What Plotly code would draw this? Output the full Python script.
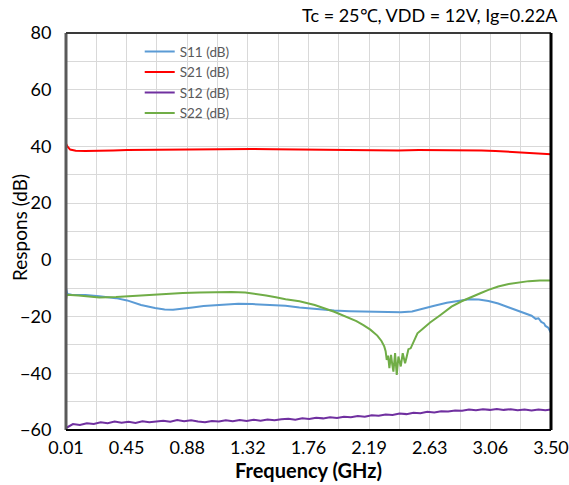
import plotly.graph_objects as go

# Measured S-parameters, Tc = 25 C, VDD = 12 V
s21_freq = [0.01, 0.02, 0.04, 0.08, 0.15, 0.25, 0.35, 0.45, 0.6, 0.75, 0.9, 1.05, 1.2, 1.35, 1.5,
            1.65, 1.8, 1.95, 2.1, 2.25, 2.4, 2.55, 2.7, 2.85, 3.0, 3.1, 3.2, 3.3, 3.4, 3.5]
s21_db = [41.0, 40.0, 38.9, 38.5, 38.4, 38.4, 38.6, 38.7, 38.8, 38.9, 38.9, 39.0, 39.0, 39.1, 39.0,
          38.9, 38.9, 38.8, 38.6, 38.5, 38.6, 38.7, 38.7, 38.8, 38.6, 38.4, 38.1, 37.8, 37.5, 37.2]

s11_freq = [0.01, 0.02, 0.05, 0.15, 0.25, 0.37, 0.45, 0.55, 0.65, 0.72, 0.78, 0.85, 0.92, 1.0, 1.1,
            1.25, 1.35, 1.45, 1.59, 1.69, 1.8, 1.94, 2.05, 2.18, 2.3, 2.42, 2.5, 2.58, 2.66, 2.75,
            2.85, 2.91, 2.98, 3.05, 3.12, 3.2, 3.26, 3.33, 3.36, 3.39, 3.41, 3.43, 3.45, 3.46, 3.48, 3.5]
s11_db = [-10.0, -12.0, -12.3, -12.4, -12.8, -13.5, -14.3, -15.9, -17.0, -17.5, -17.6, -17.3, -16.8,
          -16.3, -15.9, -15.5, -15.6, -15.8, -16.2, -16.8, -17.4, -17.9, -18.1, -18.2, -18.4, -18.5,
          -18.2, -17.3, -16.2, -15.1, -14.2, -13.9, -14.0, -14.5, -15.4, -16.8, -18.0, -19.3, -19.7,
          -20.8, -20.6, -21.9, -22.4, -23.3, -23.9, -25.8]

s12_freq = [0.01, 0.06, 0.11, 0.16, 0.21, 0.26, 0.31, 0.36, 0.41, 0.46, 0.51, 0.56, 0.61, 0.66,
            0.71, 0.76, 0.81, 0.86, 0.91, 0.96, 1.01, 1.06, 1.11, 1.16, 1.21, 1.26, 1.31, 1.36,
            1.41, 1.46, 1.51, 1.56, 1.61, 1.66, 1.71, 1.76, 1.81, 1.86, 1.91, 1.96, 2.01, 2.06,
            2.11, 2.16, 2.21, 2.26, 2.31, 2.36, 2.41, 2.46, 2.51, 2.56, 2.61, 2.66, 2.71, 2.76,
            2.81, 2.86, 2.91, 2.96, 3.01, 3.06, 3.11, 3.16, 3.21, 3.26, 3.31, 3.36, 3.41, 3.46, 3.5]
s12_db = [-59.3, -57.9, -58.2, -57.6, -57.9, -57.3, -57.6, -57.0, -57.4, -57.1, -57.5, -56.9,
          -57.3, -57.0, -56.7, -57.1, -56.5, -56.9, -56.6, -57.0, -57.3, -56.8, -57.0, -56.6,
          -56.9, -56.5, -56.8, -56.4, -56.7, -56.3, -56.6, -56.2, -56.0, -56.4, -55.9, -56.1,
          -55.7, -55.9, -55.5, -55.8, -55.3, -55.5, -55.1, -55.3, -54.8, -55.0, -54.5, -54.7,
          -54.2, -54.4, -53.9, -54.1, -53.6, -53.8, -53.4, -53.5, -53.1, -53.2, -52.8, -53.0,
          -52.7, -52.9, -52.6, -52.9, -52.7, -53.0, -52.8, -53.1, -52.8, -53.0, -52.8]

s22_freq = [0.01, 0.015, 0.1, 0.25, 0.37, 0.49, 0.61, 0.73, 0.85, 0.97, 1.1, 1.2, 1.3, 1.38, 1.45,
            1.52, 1.59, 1.69, 1.8, 1.94, 2.05, 2.1, 2.15, 2.2, 2.25, 2.28, 2.3, 2.31, 2.318, 2.328,
            2.337, 2.349, 2.358, 2.366, 2.378, 2.39, 2.402, 2.41, 2.419, 2.433, 2.442, 2.45, 2.462,
            2.474, 2.49, 2.51, 2.539, 2.582, 2.63, 2.7, 2.784, 2.857, 2.905, 3.0, 3.05, 3.12,
            3.196, 3.27, 3.34, 3.42, 3.5]
s22_db = [-14.0, -12.3, -12.6, -13.3, -13.1, -12.7, -12.3, -12.0, -11.7, -11.5, -11.3, -11.3,
          -11.5, -12.0, -12.6, -13.2, -13.9, -14.6, -15.9, -18.3, -20.5, -21.6, -23.0, -24.6,
          -26.7, -28.6, -30.5, -32.2, -35.3, -33.8, -38.2, -33.5, -37.0, -39.4, -32.9, -40.6,
          -34.1, -36.2, -37.6, -32.9, -34.8, -36.5, -34.1, -31.5, -31.2, -28.8, -25.9, -24.1,
          -22.1, -19.6, -16.5, -14.6, -13.5, -11.6, -10.6, -9.4, -8.5, -7.9, -7.5, -7.3, -7.3]

x_tick_vals = [0.01, 0.44625, 0.8825, 1.31875, 1.755, 2.19125, 2.6275, 3.06375, 3.5]
x_tick_text = ["0.01", "0.45", "0.88", "1.32", "1.76", "2.19", "2.63", "3.06", "3.50"]
x_minor_vals = [0.228125, 0.664375, 1.100625, 1.536875, 1.973125, 2.409375, 2.845625, 3.281875]

series = [
    ("S11 (dB)", s11_freq, s11_db, "#5b9bd5"),
    ("S21 (dB)", s21_freq, s21_db, "#ff0000"),
    ("S12 (dB)", s12_freq, s12_db, "#7030a0"),
    ("S22 (dB)", s22_freq, s22_db, "#70ad47"),
]

FONT = "Lato"
GRID = "#d9d9d9"
CLEAR = "rgba(0,0,0,0)"

fig = go.Figure()
for name, fx, fy, color in series:
    fig.add_trace(go.Scatter(x=fx, y=fy, mode="lines", name=name,
                             line=dict(color=color, width=2)))

fig.update_layout(
    width=569, height=485,
    margin=dict(l=66, r=18, t=33, b=55, autoexpand=False),
    paper_bgcolor="white", plot_bgcolor="white",
    font=dict(family=FONT, size=18, color="black"),
    showlegend=True,
    legend=dict(x=0.152, y=0.992, xanchor="left", yanchor="top",
                bgcolor=CLEAR,
                font=dict(family=FONT, size=13.5, color="#595959")),
    annotations=[
        dict(text="Tc = 25℃, VDD = 12V, Ig=0.22A", xref="paper", yref="paper",
             x=1.0186, y=1.045, xanchor="right", yanchor="middle",
             showarrow=False, font=dict(family=FONT, size=18, color="black")),
        # y-axis title placed as a rotated label
        dict(text="Respons (dB)", xref="paper", yref="paper",
             x=-0.0948, y=0.509, xanchor="center", yanchor="middle", textangle=-90,
             showarrow=False, font=dict(family=FONT, size=19, color="black")),
    ],
)

fig.update_xaxes(
    range=[0.01, 3.5], tickmode="array", tickvals=x_tick_vals, ticktext=x_tick_text,
    showgrid=True, gridcolor=GRID, gridwidth=1, automargin=False,
    minor=dict(tickmode="array", tickvals=x_minor_vals,
               showgrid=True, gridcolor=GRID, gridwidth=1),
    zeroline=False, ticks="outside", ticklen=1, tickcolor=CLEAR, tickfont=dict(size=18),
    title=dict(text="<b>Frequency (GHz)</b>", font=dict(size=20), standoff=4),
)
fig.update_yaxes(
    range=[-60, 80], dtick=20, tick0=-60,
    showgrid=True, gridcolor=GRID, gridwidth=1, automargin=False,
    minor=dict(dtick=10, showgrid=True, gridcolor=GRID, gridwidth=1),
    zeroline=False, ticks="outside", ticklen=10, tickcolor=CLEAR, tickfont=dict(size=18),
)

# Plot frame: grey left/top edges, black bottom/right edges
frame = [
    (0, 0, 0, 1, "#5a5a5a", 3),
    (0, 1, 1, 1, "#3a3a3a", 2),
    (0, 0, 1, 0, "#000000", 2),
    (1, 0, 1, 1, "#000000", 3),
]
for x0, y0, x1, y1, c, w in frame:
    fig.add_shape(type="line", xref="paper", yref="paper", x0=x0, y0=y0, x1=x1, y1=y1,
                  line=dict(color=c, width=w), layer="above")

fig.write_html("out.html")
